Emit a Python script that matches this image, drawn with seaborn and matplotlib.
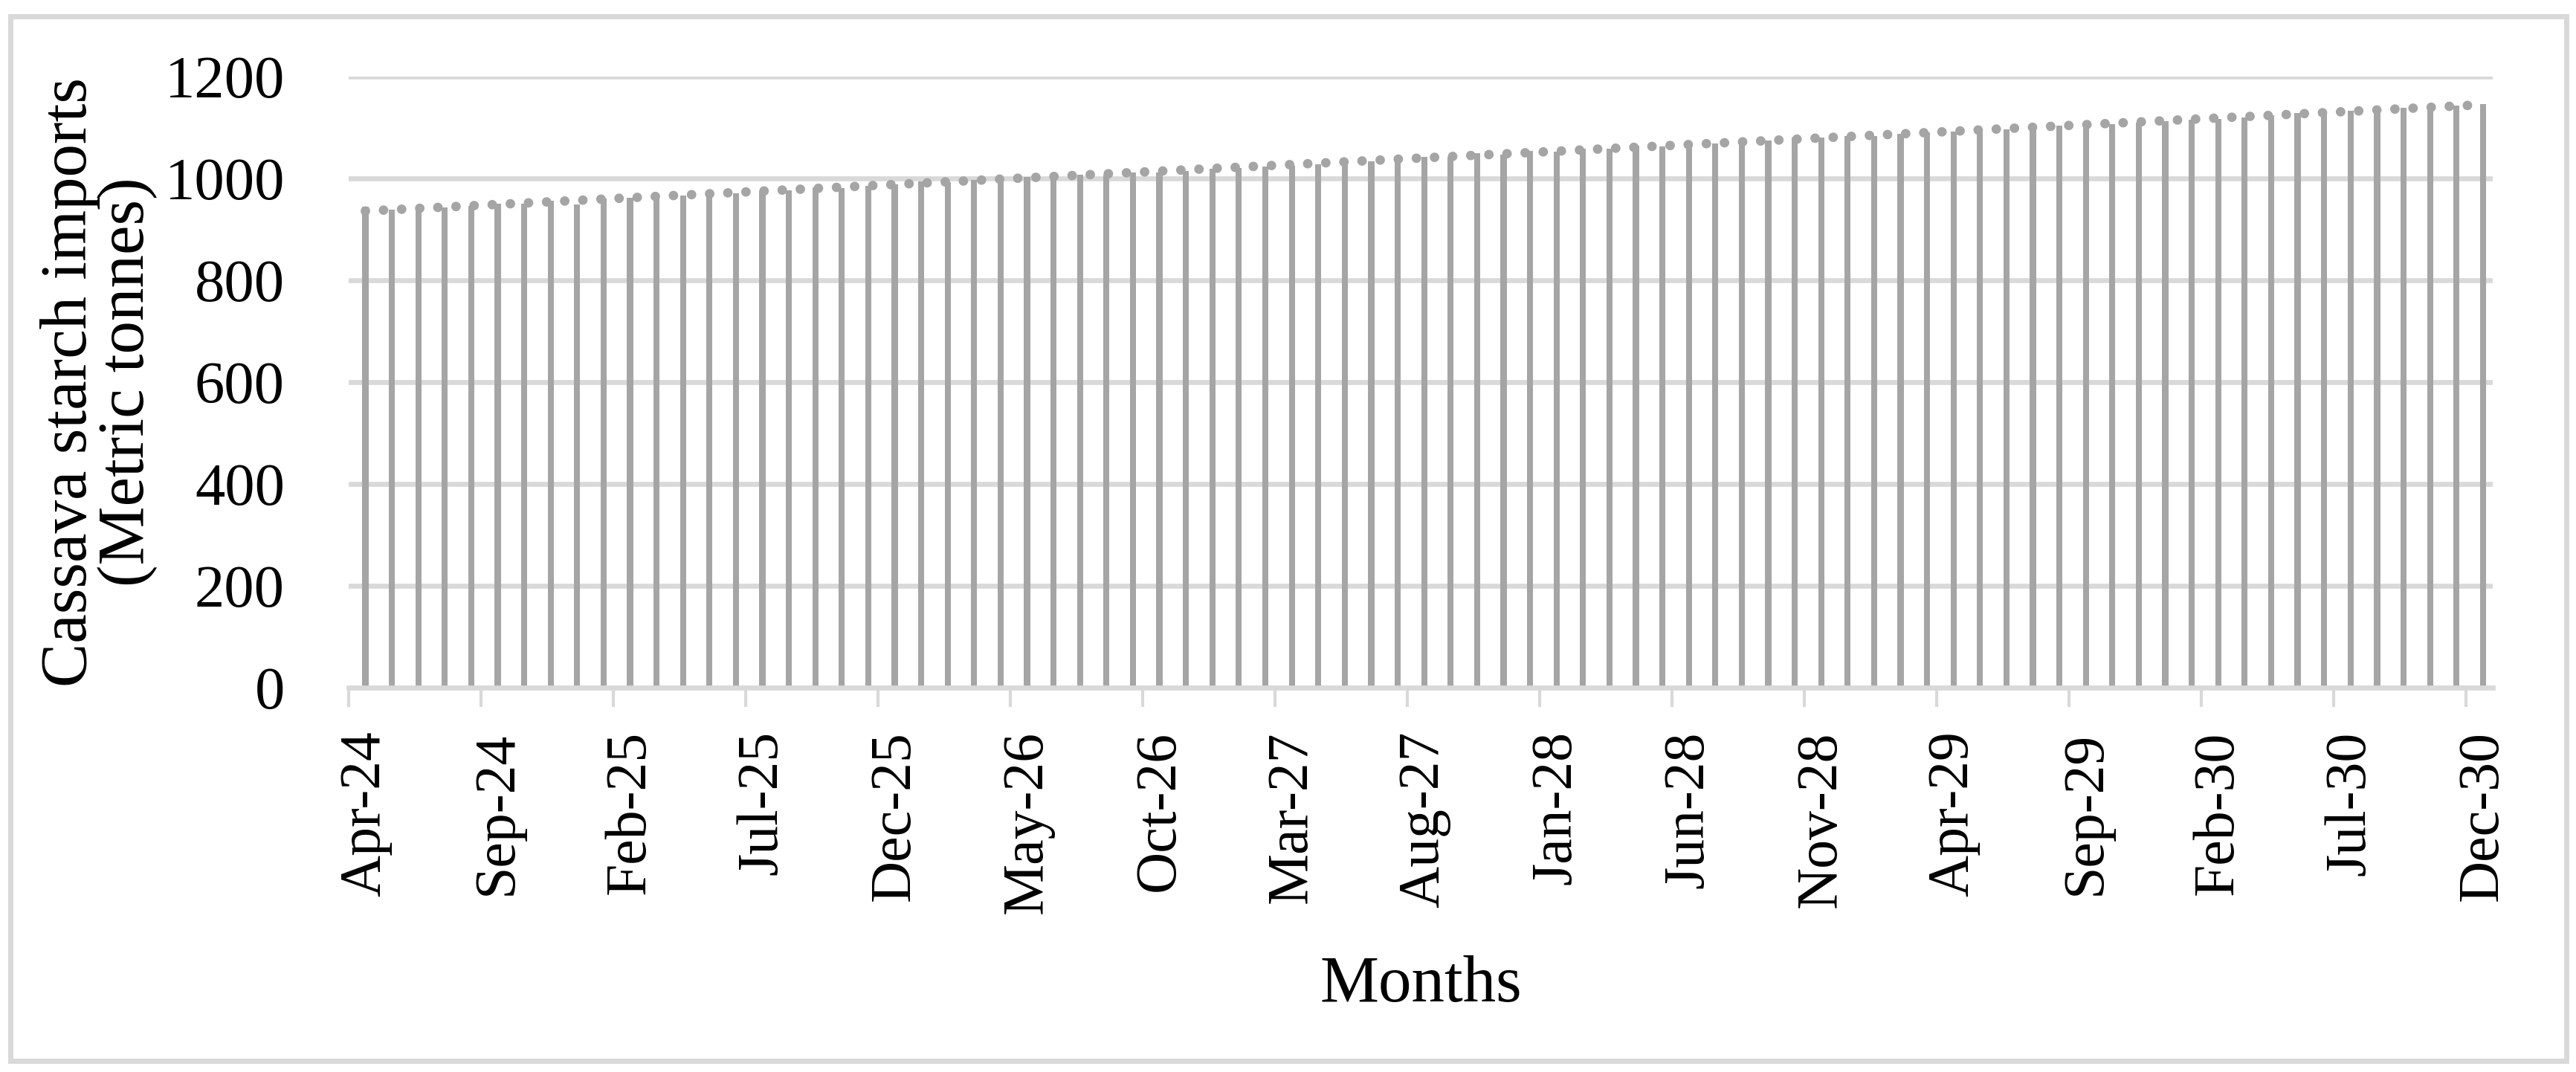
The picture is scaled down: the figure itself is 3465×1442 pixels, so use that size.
"""Monthly cassava starch import forecast, Apr-24 to Dec-30."""

import matplotlib

matplotlib.use("Agg")
import matplotlib.pyplot as plt
import numpy as np
import pandas as pd
import seaborn as sns
from matplotlib.patches import Rectangle


MONTHS = pd.date_range("2024-04-01", "2030-12-01", freq="MS").strftime("%b-%y").tolist()
IMPORTS = [
    944, 938, 941, 943, 946, 950, 951, 956, 949, 961, 962, 966, 966, 973, 971, 975, 977, 982, 981, 985, 988,
    994, 992, 997, 998, 1003, 1002, 1008, 1008, 1011, 1012, 1015, 1019, 1020, 1023, 1025, 1028, 1031, 1034, 1035, 1042,
    1043, 1050, 1047, 1054, 1053, 1059, 1059, 1064, 1063, 1069, 1069, 1075, 1074, 1080, 1080, 1083, 1083, 1088, 1090, 1092,
    1094, 1097, 1100, 1103, 1105, 1107, 1109, 1113, 1115, 1117, 1120, 1124, 1128, 1129, 1133, 1134, 1138, 1141, 1143, 1146,
]
TICK_LABELS = [
    "Apr-24", "Sep-24", "Feb-25", "Jul-25", "Dec-25", "May-26", "Oct-26", "Mar-27", "Aug-27",
    "Jan-28", "Jun-28", "Nov-28", "Apr-29", "Sep-29", "Feb-30", "Jul-30", "Dec-30",
]
Y_TICKS = [0, 200, 400, 600, 800, 1000, 1200]

BAR_COLOR = "#A5A5A5"
GRID_COLOR = "#D9D9D9"
W, H = 3466, 1442

sns.set_theme(style="white")
plt.rcParams["font.family"] = ["Liberation Serif", "DejaVu Serif"]
plt.rcParams["text.color"] = "black"

data = pd.DataFrame({"month": MONTHS, "imports": IMPORTS})

fig = plt.figure(figsize=(W / 200, H / 200), dpi=200)
ax = fig.add_axes([469 / W, 1 - 925 / H, 2884 / W, 822 / H])

sns.barplot(
    data=data, x="month", y="imports", color=BAR_COLOR, saturation=1, width=0.23,
    linewidth=0, edgecolor="none", ax=ax,
)
# dotted linear trendline, as in the Excel original
sns.regplot(
    x=np.arange(len(IMPORTS)),
    y=np.array(IMPORTS),
    scatter=False,
    ci=None,
    ax=ax,
    line_kws=dict(color=BAR_COLOR, lw=4.6, linestyle=(0, (0.01, 1.9)), dash_capstyle="round"),
)

ax.set_xlim(-0.63, len(IMPORTS) - 0.63)
ax.set_ylim(0, 1200)
ax.set_yticks(Y_TICKS)
ax.set_xticks(range(0, len(MONTHS), 5))
ax.set_xticklabels(TICK_LABELS, rotation=90)
ax.set_xticks(np.arange(0, len(MONTHS), 5) - 0.63, minor=True)

ax.tick_params(axis="x", which="major", length=0, pad=21, labelsize=28, labelcolor="black")
ax.tick_params(axis="x", which="minor", length=9.5, width=1.5, color=GRID_COLOR, direction="out", bottom=True)
ax.tick_params(axis="y", length=0, pad=31, labelsize=29, labelcolor="black")

ax.set_axisbelow(True)
ax.yaxis.grid(True, color=GRID_COLOR, lw=2.4)
ax.xaxis.grid(False)
for side in ["left", "right", "top"]:
    ax.spines[side].set_visible(False)
ax.spines["bottom"].set_color(GRID_COLOR)
ax.spines["bottom"].set_linewidth(2.4)

ax.set_ylabel("Cassava starch imports\n(Metric tonnes)", fontsize=32, linespacing=0.95, color="black")
ax.yaxis.label.set_va("center")
ax.yaxis.set_label_coords(-0.1165, 0.5)
ax.set_xlabel("Months", fontsize=32, color="black")
ax.xaxis.label.set_va("baseline")
ax.xaxis.set_label_coords(0.5, -0.513)

# light grey frame around the whole chart
fig.patches.append(
    Rectangle(
        (14 / W, 1 - 1427 / H), (3452 - 14) / W, (1427 - 22) / H,
        transform=fig.transFigure, fill=False, edgecolor=GRID_COLOR, lw=2.5,
    )
)

fig.savefig("out.png", dpi=200)
plt.close(fig)
